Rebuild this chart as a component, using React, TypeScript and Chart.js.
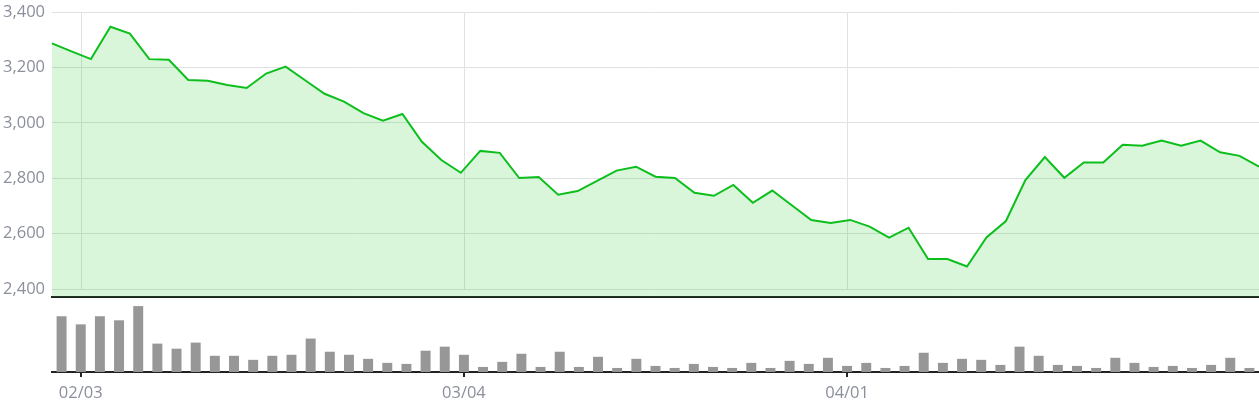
import { useEffect, useRef } from 'react';
import { Chart, registerables } from 'chart.js';

Chart.register(...registerables);

const labels: string[] = [
  '01/31',
  '02/03', '02/04', '02/05', '02/06', '02/07',
  '02/10', '02/11', '02/12', '02/13', '02/14',
  '02/18', '02/19', '02/20', '02/21',
  '02/24', '02/25', '02/26', '02/27', '02/28',
  '03/03', '03/04', '03/05', '03/06', '03/07',
  '03/10', '03/11', '03/12', '03/13', '03/14',
  '03/17', '03/18', '03/19', '03/20', '03/21',
  '03/24', '03/25', '03/26', '03/27', '03/28',
  '03/31', '04/01', '04/02', '04/03', '04/04',
  '04/07', '04/08', '04/09', '04/10', '04/11',
  '04/14', '04/15', '04/16', '04/17',
  '04/21', '04/22', '04/23', '04/24', '04/25',
  '04/28', '04/29', '04/30', '05/01',
];

const closes: number[] = [
  3287, 3258, 3230, 3347, 3322, 3230, 3228, 3155, 3152, 3137,
  3126, 3178, 3203, 3154, 3105, 3077, 3035, 3008, 3032, 2932,
  2866, 2820, 2899, 2892, 2801, 2805, 2741, 2754, 2791, 2828,
  2842, 2806, 2801, 2748, 2737, 2776, 2712, 2756, 2703, 2650,
  2639, 2650, 2626, 2586, 2622, 2509, 2509, 2482, 2587, 2646,
  2794, 2877, 2802, 2857, 2857, 2921, 2918, 2936, 2918, 2936,
  2894, 2881, 2842,
];

const volumes: number[] = [
  55, 47, 55, 51, 65, 28, 23, 29, 16, 16,
  12, 16, 17, 33, 20, 17, 13, 9, 8, 21,
  25, 17, 5, 10, 18, 5, 20, 5, 15, 4,
  13, 6, 4, 8, 5, 4, 9, 4, 11, 8,
  14, 6, 9, 4, 6, 19, 9, 13, 12, 7,
  25, 16, 7, 6, 4, 14, 9, 5, 6, 4,
  7, 14, 4,
];

const tickIndexes: number[] = [1, 21, 41];
const priceTicks: number[] = [2400, 2600, 2800, 3000, 3200, 3400];
const priceMin = 2372;
const priceMax = 3400;
const volumeMax = 73;

const FONT = "'Open Sans', 'Noto Sans', sans-serif";
const FONT_SIZE = 16.5;
const LABEL_COLOR = '#8a8f9b';
const GRID_COLOR = '#dfe1e4';
const AXIS_COLOR = '#222222';
const LINE_COLOR = '#0cbf1c';
const FILL_COLOR = 'rgba(0, 195, 7, 0.15)';
const BAR_COLOR = '#979797';

const vGridPlugin = {
  id: 'vGrid',
  beforeDatasetsDraw(chart: any) {
    const xs = chart.scales.x;
    const ys = chart.scales.y;
    const ctx = chart.ctx;
    const top = ys.getPixelForValue(priceTicks[priceTicks.length - 1]);
    const bottom = ys.getPixelForValue(priceTicks[0]);
    ctx.save();
    ctx.strokeStyle = GRID_COLOR;
    ctx.lineWidth = 1;
    xs.ticks.forEach((_t: any, i: number) => {
      const px = Math.round(xs.getPixelForTick(i)) + 0.5;
      ctx.beginPath();
      ctx.moveTo(px, top);
      ctx.lineTo(px, bottom);
      ctx.stroke();
    });
    ctx.restore();
  },
};

const keepTickIndexes = (s: any) => {
  s.ticks = s.ticks.filter((t: any) => tickIndexes.includes(t.value));
};

export default function App() {
  const topRef = useRef<HTMLCanvasElement | null>(null);
  const botRef = useRef<HTMLCanvasElement | null>(null);

  useEffect(() => {
    document.body.style.margin = '0';
    const top = new Chart(topRef.current as HTMLCanvasElement, {
      type: 'line',
      data: {
        labels,
        datasets: [
          {
            data: closes,
            xAxisID: 'x2',
            yAxisID: 'y',
            borderColor: LINE_COLOR,
            borderWidth: 2,
            backgroundColor: FILL_COLOR,
            fill: 'start',
            pointRadius: 0,
            tension: 0,
          },
        ],
      },
      options: {
        responsive: false,
        animation: false,
        events: [],
        layout: { padding: { top: 12, right: 0, bottom: 1, left: 0 } },
        plugins: { legend: { display: false }, tooltip: { enabled: false } },
        scales: {
          x: {
            type: 'category',
            offset: true,
            ticks: { display: false, autoSkip: false },
            grid: { display: false, drawTicks: false },
            border: { display: true, color: AXIS_COLOR, width: 2 },
            afterBuildTicks: keepTickIndexes,
          },
          x2: { type: 'category', offset: false, display: false },
          y: {
            min: priceMin,
            max: priceMax,
            ticks: {
              padding: 7,
              color: LABEL_COLOR,
              font: { size: FONT_SIZE, family: FONT },
              callback: (v: any) => Number(v).toLocaleString('en-US'),
            },
            grid: { color: GRID_COLOR, drawTicks: false },
            border: { display: false },
            afterBuildTicks: (s: any) => {
              s.ticks = priceTicks.map((value) => ({ value }));
            },
            afterFit: (s: any) => {
              s.width = 52;
              s.paddingTop = 0;
              s.paddingBottom = 0;
            },
          },
        },
      } as any,
      plugins: [vGridPlugin],
    });

    const bot = new Chart(botRef.current as HTMLCanvasElement, {
      type: 'bar',
      data: {
        labels,
        datasets: [
          {
            data: volumes,
            backgroundColor: BAR_COLOR,
            categoryPercentage: 1,
            barPercentage: 0.52,
          },
        ],
      },
      options: {
        responsive: false,
        animation: false,
        events: [],
        layout: { padding: { top: 0, right: 0, bottom: 0, left: 52 } },
        plugins: { legend: { display: false }, tooltip: { enabled: false } },
        scales: {
          x: {
            offset: true,
            grid: {
              offset: false,
              drawOnChartArea: false,
              drawTicks: true,
              tickLength: 5,
              color: AXIS_COLOR,
              lineWidth: 2,
            },
            border: { color: AXIS_COLOR, width: 2 },
            ticks: {
              autoSkip: false,
              maxRotation: 0,
              padding: 6,
              color: LABEL_COLOR,
              font: { size: FONT_SIZE, family: FONT },
            },
            afterBuildTicks: keepTickIndexes,
            afterFit: (s: any) => {
              s.height = 28;
            },
          },
          y: { display: false, min: 0, max: volumeMax },
        },
      } as any,
    });

    return () => {
      top.destroy();
      bot.destroy();
    };
  }, []);

  return (
    <div style={{ width: 1259, height: 400 }}>
      <canvas ref={topRef} width={1259} height={298} style={{ display: 'block' }} />
      <canvas ref={botRef} width={1259} height={102} style={{ display: 'block' }} />
    </div>
  );
}
